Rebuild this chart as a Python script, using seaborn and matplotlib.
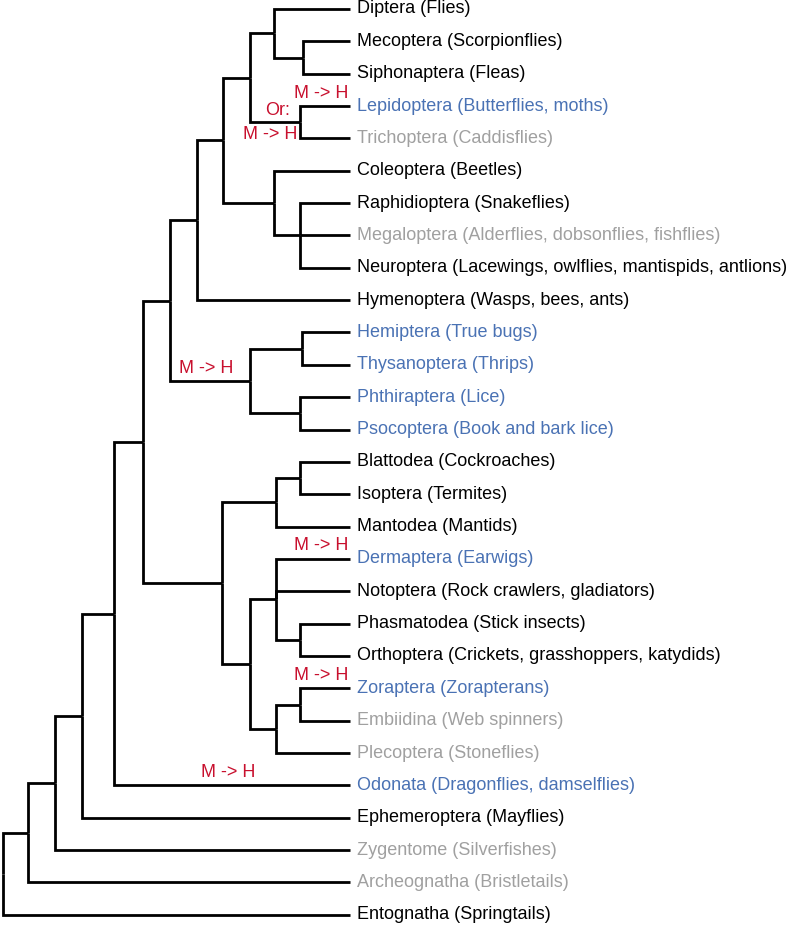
import pandas as pd
import matplotlib
matplotlib.use('Agg')
import matplotlib.pyplot as plt
import seaborn as sns

# 1. 데이터: 잎(목) 이름, 색 그룹, 내부 노드(부모/깊이)
LEAVES = ['Diptera (Flies)', 'Mecoptera (Scorpionflies)', 'Siphonaptera (Fleas)',
          'Lepidoptera (Butterflies, moths)', 'Trichoptera (Caddisflies)',
          'Coleoptera (Beetles)', 'Raphidioptera (Snakeflies)',
          'Megaloptera (Alderflies, dobsonflies, fishflies)',
          'Neuroptera (Lacewings, owlflies, mantispids, antlions)',
          'Hymenoptera (Wasps, bees, ants)', 'Hemiptera (True bugs)',
          'Thysanoptera (Thrips)', 'Phthiraptera (Lice)', 'Psocoptera (Book and bark lice)',
          'Blattodea (Cockroaches)', 'Isoptera (Termites)', 'Mantodea (Mantids)',
          'Dermaptera (Earwigs)', 'Notoptera (Rock crawlers, gladiators)',
          'Phasmatodea (Stick insects)', 'Orthoptera (Crickets, grasshoppers, katydids)',
          'Zoraptera (Zorapterans)', 'Embiidina (Web spinners)', 'Plecoptera (Stoneflies)',
          'Odonata (Dragonflies, damselflies)', 'Ephemeroptera (Mayflies)',
          'Zygentome (Silverfishes)', 'Archeognatha (Bristletails)', 'Entognatha (Springtails)']
LEAF_GROUP = ['k', 'k', 'k', 'b', 'g', 'k', 'k', 'g', 'k', 'k', 'b', 'b', 'b', 'b',
              'k', 'k', 'k', 'b', 'k', 'k', 'k', 'b', 'g', 'g', 'b', 'k', 'g', 'g', 'k']
LEAF_PARENT = ['Antliophora', 'MecSiph', 'MecSiph', 'Amphiesmenoptera', 'Amphiesmenoptera',
               'ColNeu', 'Neuropterida', 'Neuropterida', 'Neuropterida', 'Holometabola',
               'Condylognatha', 'Condylognatha', 'Psocodea', 'Psocodea',
               'BlattIso', 'BlattIso', 'Dictyoptera', 'DermNoto', 'DermNoto',
               'PhasOrth', 'PhasOrth', 'ZorEmb', 'ZorEmb', 'ZorPlec',
               'Metapterygota', 'Pterygota', 'Dicondylia', 'Insecta', 'Root']

NODES = ['Root', 'Insecta', 'Dicondylia', 'Pterygota', 'Metapterygota', 'Neoptera',
         'Eumetabola', 'Holometabola', 'Aparaglossata', 'Mecopterida', 'Antliophora',
         'MecSiph', 'Amphiesmenoptera', 'ColNeu', 'Neuropterida', 'Paraneoptera',
         'Condylognatha', 'Psocodea', 'Polyneoptera', 'Dictyoptera', 'BlattIso',
         'Rest', 'DermNoto', 'PhasOrth', 'ZorPlec', 'ZorEmb']
NODE_PARENT = [None, 'Root', 'Insecta', 'Dicondylia', 'Pterygota', 'Metapterygota',
               'Neoptera', 'Eumetabola', 'Holometabola', 'Aparaglossata', 'Mecopterida',
               'Antliophora', 'Mecopterida', 'Aparaglossata', 'ColNeu', 'Eumetabola',
               'Paraneoptera', 'Paraneoptera', 'Neoptera', 'Polyneoptera', 'Dictyoptera',
               'Polyneoptera', 'Rest', 'DermNoto', 'Rest', 'ZorPlec']
NODE_X = [3, 28, 55, 82, 114, 143, 170, 197, 223, 250, 274, 303, 300, 274, 300, 250,
          302, 300, 222, 276, 300, 250, 276, 300, 276, 300]
LEAF_X = 350

# 빨간 주석: 대상 가지, 텍스트, 위/아래
NOTE_TARGET = ['Lepidoptera (Butterflies, moths)', 'Amphiesmenoptera', 'Amphiesmenoptera',
               'Paraneoptera', 'Dermaptera (Earwigs)', 'Zoraptera (Zorapterans)',
               'Odonata (Dragonflies, damselflies)']
NOTE_TEXT = ['M -> H', 'Or:', 'M -> H', 'M -> H', 'M -> H', 'M -> H', 'M -> H']

COLORS = {'k': '#000000', 'b': '#4a72b4', 'g': '#a0a0a0'}
RED = '#c8102e'
FS = 13

# 2. 좌표 계산 (잎 순서 -> y, 노드 y = 첫/끝 자식 중점)
node_x = dict(zip(NODES, NODE_X))
node_parent = dict(zip(NODES, NODE_PARENT))
for name, par in zip(LEAVES, LEAF_PARENT):
    node_x[name] = LEAF_X
    node_parent[name] = par
pos_y = {name: float(i) for i, name in enumerate(LEAVES)}
children = {n: [] for n in NODES}
for n, p in node_parent.items():
    if p is not None:
        children[p].append(n)


def get_y(n):
    if n not in pos_y:
        ys = [get_y(c) for c in children[n]]
        pos_y[n] = (min(ys) + max(ys)) / 2
    return pos_y[n]


get_y('Root')

rows = []
for k, (n, p) in enumerate(node_parent.items()):
    if p is None:
        continue
    for j, (xx, yy) in enumerate([(node_x[p], pos_y[p]), (node_x[p], pos_y[n]),
                                  (node_x[n], pos_y[n])]):
        rows.append({'seg': k, 'order': j, 'x': xx, 'y': yy})
seg_df = pd.DataFrame(rows)

# 3. 그리기
sns.set_style('white')
plt.rcParams['font.family'] = ['Liberation Sans', 'DejaVu Sans']

fig = plt.figure(figsize=(7.88, 9.25), dpi=100)
ax = fig.add_axes([0, 0, 1, 1])
step = 32.35
top = 9
ax.set_xlim(0, 788)
ax.set_ylim((925 - top) / step, -top / step)

sns.lineplot(data=seg_df, x='x', y='y', units='seg', estimator=None, sort=False,
             color='black', linewidth=2.0, ax=ax, legend=False,
             solid_joinstyle='miter', solid_capstyle='butt')

for name, grp in zip(LEAVES, LEAF_GROUP):
    ax.text(LEAF_X + 7, pos_y[name], name, color=COLORS[grp], fontsize=FS,
            va='center', ha='left')

px = 1 / step
for tgt, txt in zip(NOTE_TARGET, NOTE_TEXT):
    y = pos_y[tgt]
    x_end = node_x[tgt]
    x_start = node_x[node_parent[tgt]]
    if tgt == 'Amphiesmenoptera':
        if txt == 'Or:':
            ax.text(x_end - 10, y - 12 * px, txt, color=RED, fontsize=FS,
                    ha='right', va='center')
        else:
            ax.text(x_end - 3, y + 12 * px, txt, color=RED, fontsize=FS,
                    ha='right', va='center')
    elif x_end == LEAF_X and x_end - x_start < 100:
        ax.text(x_end - 2, y - 13 * px, txt, color=RED, fontsize=FS,
                ha='right', va='center')
    else:
        ax.text((x_start + x_end) / 2 - 4, y - 13 * px, txt, color=RED, fontsize=FS,
                ha='center', va='center')

ax.set_axis_off()
plt.savefig('out.png', dpi=100)
plt.close()
